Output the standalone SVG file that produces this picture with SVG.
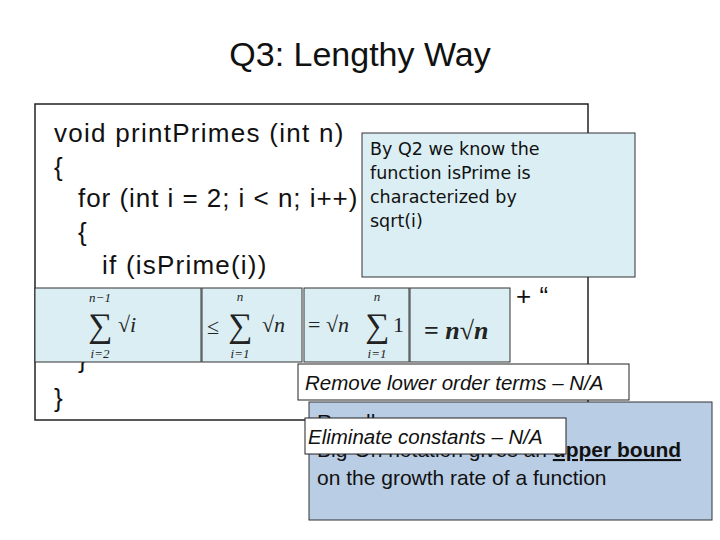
<svg xmlns="http://www.w3.org/2000/svg" width="720" height="540" viewBox="0 0 720 540">
<style>
.code{font-family:"Liberation Sans",Arial,sans-serif;font-size:26px;fill:#111;letter-spacing:0.6px}
.m{font-family:"Liberation Serif","DejaVu Serif",serif;fill:#222}
.f{fill:#daeef3;stroke:#333;stroke-width:1}
.lab{fill:#fff;stroke:#222;stroke-width:1}
.it{font-family:"Liberation Sans",Calibri,sans-serif;font-style:italic;font-size:20.5px;fill:#111}
.cal{font-family:"Liberation Sans",Calibri,sans-serif;font-size:21px;fill:#111}
</style>
<rect width="720" height="540" fill="#fff"/>
<text x="360" y="66" text-anchor="middle" font-family="Liberation Sans,Calibri,sans-serif" font-size="34" fill="#111">Q3: Lengthy Way</text>
<g id="code">
<rect x="35" y="104" width="553" height="316" fill="#fff" stroke="#222" stroke-width="1.5"/>
<text class="code" x="54" y="142" textLength="290">void printPrimes (int n)</text>
<text class="code" x="54" y="176">{</text>
<text class="code" x="78" y="207" textLength="280">for (int i = 2; i &lt; n; i++)</text>
<text class="code" x="78" y="241">{</text>
<text class="code" x="102" y="274" textLength="165">if (isPrime(i))</text>
<text class="code" x="78" y="368">}</text>
<text class="code" x="54" y="407">}</text>
</g>
<g id="callout">
<rect class="f" x="362" y="133" width="273" height="144"/>
<text font-family="DejaVu Sans,sans-serif" font-size="17.5" fill="#111"><tspan x="370" y="155">By Q2 we know the</tspan><tspan x="370" y="179">function isPrime is</tspan><tspan x="370" y="203">characterized by</tspan><tspan x="370" y="227">sqrt(i)</tspan></text>
</g>
<g id="formula">
<rect class="f" x="35" y="288" width="166" height="74"/>
<rect class="f" x="202" y="288" width="100" height="74"/>
<rect class="f" x="304" y="288" width="105" height="74"/>
<rect class="f" x="410" y="288" width="100" height="74"/>
<text class="m" x="100" y="302" font-size="13" font-style="italic" text-anchor="middle">n−1</text>
<text class="m" x="100" y="337" font-size="34" text-anchor="middle">∑</text>
<text class="m" x="100" y="358" font-size="13" font-style="italic" text-anchor="middle">i=2</text>
<text class="m" x="118" y="332" font-size="22">√<tspan font-style="italic">i</tspan></text>
<text class="m" x="207" y="334" font-size="22">≤</text>
<text class="m" x="240" y="301" font-size="13" font-style="italic" text-anchor="middle">n</text>
<text class="m" x="240" y="337" font-size="34" text-anchor="middle">∑</text>
<text class="m" x="240" y="358" font-size="13" font-style="italic" text-anchor="middle">i=1</text>
<text class="m" x="262" y="332" font-size="22">√<tspan font-style="italic">n</tspan></text>
<text class="m" x="308" y="332" font-size="22">= √<tspan font-style="italic">n</tspan></text>
<text class="m" x="377" y="301" font-size="13" font-style="italic" text-anchor="middle">n</text>
<text class="m" x="377" y="337" font-size="34" text-anchor="middle">∑</text>
<text class="m" x="377" y="358" font-size="13" font-style="italic" text-anchor="middle">i=1</text>
<text class="m" x="393" y="332" font-size="22">1</text>
<text class="m" x="424" y="339" font-size="26" font-weight="bold">= <tspan font-style="italic">n</tspan>√<tspan font-style="italic">n</tspan></text>
<text class="code" x="516" y="305" font-size="22">+ “</text>
</g>
<g id="recall">
<rect x="309" y="402" width="403" height="118" fill="#b9cde5" stroke="#333" stroke-width="1"/>
<text class="cal" x="317" y="429">Recall:</text>
<text class="cal" x="317" y="457">Big-Oh notation gives an <tspan font-weight="bold" text-decoration="underline">upper bound</tspan></text>
<text class="cal" x="317" y="485">on the growth rate of a function</text>
</g>
<g id="remove">
<rect class="lab" x="298" y="364" width="331" height="36"/>
<text class="it" x="305" y="390">Remove lower order terms – N/A</text>
</g>
<g id="eliminate">
<rect class="lab" x="305" y="418" width="261" height="36"/>
<text class="it" x="308" y="444">Eliminate constants – N/A</text>
</g>
<g id="connectors"/>
</svg>
